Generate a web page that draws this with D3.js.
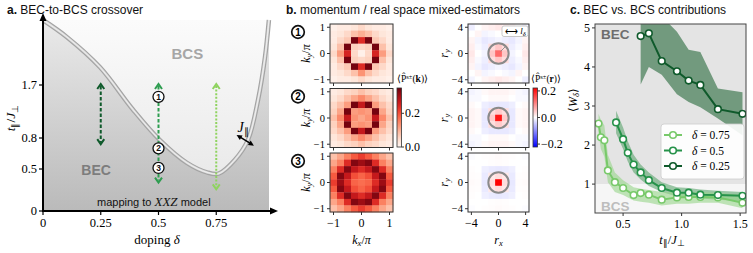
<!DOCTYPE html>
<html><head><meta charset="utf-8">
<script src="https://cdn.jsdelivr.net/npm/d3@7"></script>
<style>body{margin:0;background:#fff} svg{display:block}</style>
</head><body><svg id="c" width="753" height="253"></svg>
<script>
// ---------- DATA ----------
// panel a
const aXTicks=[0,0.25,0.5,0.75];
const aYTicks=[0,0.5,0.8,1.7];
const crossDelta=[0,0.104,0.247,0.39,0.506,0.623,0.71,0.76,0.831,0.887,0.931,0.961,0.978];
const crossT=[2.8,2.51,2.0,1.28,0.78,0.56,0.46,0.445,0.59,0.78,1.45,2.17,2.8];
const arrowDelta=[0.25,0.5,0.75];
const arrowLow=[0.75,0.35,0.27];
const arrowHigh=[1.7,1.7,1.7];
const stateLabels=["1","2","3"];
const stateT=[1.5,0.7,0.51];
// panel b
const kCoords=[-1,-0.75,-0.5,-0.25,0,0.25,0.5,0.75,1];
const rCoords=[-4,-3,-2,-1,0,1,2,3,4];
const kTicks=[-1,0,1];
const rTicks=[-4,0,4];
const kCbTicks=[0,0.2];
const rCbTicks=[-0.2,0,0.2];
const K1=[
[.01,.02,.02,.03,.05,.03,.02,.02,.01],
[.02,.03,.05,.08,.10,.08,.05,.03,.02],
[.02,.05,.07,.34,.24,.34,.07,.05,.02],
[.03,.08,.34,.06,.05,.06,.34,.08,.03],
[.05,.12,.25,.05,.01,.05,.25,.12,.05],
[.03,.08,.34,.06,.05,.06,.34,.08,.03],
[.02,.05,.07,.34,.24,.34,.07,.05,.02],
[.02,.03,.05,.08,.13,.08,.05,.03,.02],
[.01,.02,.02,.03,.05,.03,.02,.02,.01]];
const K2=[
[.02,.03,.05,.06,.08,.06,.05,.03,.02],
[.03,.05,.08,.11,.14,.11,.08,.05,.03],
[.05,.08,.12,.34,.27,.34,.12,.08,.05],
[.06,.11,.34,.12,.13,.12,.34,.11,.06],
[.08,.14,.27,.13,.11,.13,.27,.14,.08],
[.06,.11,.34,.12,.13,.12,.34,.11,.06],
[.05,.08,.12,.34,.27,.34,.12,.08,.05],
[.03,.05,.08,.11,.14,.11,.08,.05,.03],
[.02,.03,.05,.06,.08,.06,.05,.03,.02]];
const K3=[
[.08,.11,.15,.19,.22,.19,.15,.11,.08],
[.11,.15,.24,.33,.31,.33,.24,.15,.11],
[.15,.24,.33,.27,.24,.27,.33,.24,.15],
[.19,.33,.27,.20,.18,.20,.27,.33,.19],
[.22,.31,.24,.18,.17,.18,.24,.31,.22],
[.19,.33,.27,.20,.18,.20,.27,.33,.19],
[.15,.24,.33,.27,.24,.27,.33,.24,.15],
[.11,.15,.24,.33,.31,.33,.24,.15,.11],
[.08,.11,.15,.19,.22,.19,.15,.11,.08]];
const R1=[
[-.015,.0,.01,.015,.02,.015,.01,.0,-.01],
[.0,.01,-.01,-.005,.0,-.005,-.01,.01,.0],
[.01,-.01,-.02,-.015,-.01,-.015,-.02,-.01,.01],
[.015,-.005,-.015,.03,.05,.03,-.015,-.005,.015],
[.02,.0,-.01,.05,.13,.05,-.01,.0,.02],
[.015,-.005,-.015,.03,.05,.03,-.015,-.005,.015],
[.01,-.01,-.02,-.015,-.01,-.015,-.02,-.01,.01],
[.0,.01,-.01,-.005,.0,-.005,-.01,.01,.0],
[-.01,.0,.01,.015,.02,.015,.01,.0,-.015]];
const R2=[
[-.01,-.005,.005,.01,.01,.01,.005,-.005,-.01],
[-.005,-.005,.0,.005,.005,.005,.0,-.005,-.005],
[.005,.0,-.015,-.02,-.02,-.02,-.015,.0,.005],
[.01,.005,-.02,.03,.045,.03,-.02,.005,.01],
[.01,.005,-.02,.045,.2,.045,-.02,.005,.01],
[.01,.005,-.02,.03,.045,.03,-.02,.005,.01],
[.005,.0,-.015,-.02,-.02,-.02,-.015,.0,.005],
[-.005,-.005,.0,.005,.005,.005,.0,-.005,-.005],
[-.01,-.005,.005,.01,.01,.01,.005,-.005,-.01]];
const R3=[
[-.003,.0,.002,.003,.004,.003,.002,.0,-.003],
[.0,.0,.0,.002,.003,.002,.0,.0,.0],
[.002,.0,-.014,-.018,-.02,-.018,-.014,.0,.002],
[.003,.002,-.018,.02,.03,.02,-.018,.002,.003],
[.004,.003,-.02,.03,.22,.03,-.02,.003,.004],
[.003,.002,-.018,.02,.03,.02,-.018,.002,.003],
[.002,.0,-.014,-.018,-.02,-.018,-.014,.0,.002],
[.0,.0,.0,.002,.003,.002,.0,.0,.0],
[-.003,.0,.002,.003,.004,.003,.002,.0,-.003]];
// panel c
const cXTicks=[0.5,1.0,1.5];
const cYTicks=[1,2,3,4,5];
const seriesNames=["δ = 0.75","δ = 0.5","δ = 0.25"];
const t075=[0.29,0.31,0.34,0.37,0.43,0.5,0.59,0.65,0.72,0.83,0.96,1.06,1.16,1.31,1.52];
const w075=[2.55,2.2,2.12,1.35,1.05,0.9,0.72,0.77,0.73,0.6,0.66,0.67,0.67,0.66,0.52];
const w075hi=[2.8,2.65,2.5,1.75,1.3,1.1,0.92,0.88,0.85,0.8,0.8,0.8,0.8,0.78,0.72];
const w075lo=[2.3,1.9,1.7,1.05,0.8,0.72,0.58,0.55,0.52,0.45,0.5,0.5,0.52,0.52,0.38];
const t050=[0.44,0.5,0.54,0.59,0.65,0.72,0.83,0.96,1.06,1.16,1.31,1.52];
const w050=[2.58,2.15,1.8,1.5,1.3,1.1,0.9,0.78,0.78,0.73,0.72,0.7];
const w050hi=[2.88,2.45,2.1,1.75,1.5,1.3,1.05,0.92,0.9,0.86,0.83,0.8];
const w050lo=[2.3,1.9,1.58,1.3,1.12,0.95,0.8,0.68,0.66,0.63,0.6,0.56];
const t025=[0.65,0.72,0.83,0.96,1.06,1.16,1.31,1.52];
const w025=[4.79,4.86,4.15,3.89,3.65,3.54,2.92,2.8];
const w025hi=[5.6,5.5,5.3,4.9,4.44,4.38,3.45,3.35];
const w025lo=[3.55,4.0,3.8,3.3,3.1,2.97,2.68,2.25];

// ---------- DRAW ----------
const svg=d3.select("#c");
const SANS="'Liberation Sans', Arial, sans-serif";
const SERIF="'Liberation Serif','Times New Roman',serif";
const defs=svg.append("defs");
const greens={dark:"#0f5a2b",mid:"#26924a",light:"#78c96a"};

function title(x,y,b,rest){
  const t=svg.append("text").attr("x",x).attr("y",y).attr("font-family",SANS).attr("font-size",12).attr("fill","#111");
  t.append("tspan").attr("font-weight","bold").text(b);
  t.append("tspan").text(" "+rest);
}
title(7,14,"a.","BEC-to-BCS crossover");
title(286,14,"b.","momentum / real space mixed-estimators");
title(570,14,"c.","BEC vs. BCS contributions");

// ===== Panel a =====
const ax=d3.scaleLinear().domain([0,1]).range([43,274]);
const ay=d3.scaleLinear().domain([0,0.5,0.8,1.7,2.8]).range([211,169,138,85,20]);
const aL=43,aR=269,aT=20,aB=211;
const gD=defs.append("linearGradient").attr("id","gDark").attr("x1",0).attr("y1",0).attr("x2",0).attr("y2",1);
gD.append("stop").attr("offset","0%").attr("stop-color","#eaeaea");
gD.append("stop").attr("offset","100%").attr("stop-color","#bababa");
const gL=defs.append("linearGradient").attr("id","gLight").attr("gradientUnits","userSpaceOnUse").attr("x1",0).attr("y1",aT).attr("x2",0).attr("y2",180);
gL.append("stop").attr("offset","0%").attr("stop-color","#fbfbfb");
gL.append("stop").attr("offset","100%").attr("stop-color","#e9e9e9");
svg.append("rect").attr("x",aL).attr("y",aT).attr("width",aR-aL).attr("height",aB-aT).attr("fill","url(#gDark)");
const crossPts=crossDelta.map((d,i)=>[ax(d),ay(crossT[i])]);
const cline=d3.line().curve(d3.curveCatmullRom.alpha(0.5));
svg.append("path").attr("d",cline(crossPts)+"Z").attr("fill","url(#gLight)");
svg.append("path").attr("d",cline(crossPts)).attr("fill","none").attr("stroke","#a3a3a3").attr("stroke-width",4.5);
svg.append("path").attr("d",cline(crossPts)).attr("fill","none").attr("stroke","#dadada").attr("stroke-width",2.2);
svg.append("path").attr("d",cline(crossPts)).attr("fill","none").attr("stroke","#f4f4f4").attr("stroke-width",0.8);

svg.append("text").attr("x",ax(0.625)).attr("y",ay(2.23)+5).attr("text-anchor","middle").attr("font-family",SANS).attr("font-weight","bold").attr("font-size",15).attr("fill","#a6a6a6").text("BCS");
svg.append("text").attr("x",ax(0.23)).attr("y",ay(0.49)+5).attr("text-anchor","middle").attr("font-family",SANS).attr("font-weight","bold").attr("font-size",14).attr("fill","#7d7d7d").text("BEC");
const mp=svg.append("text").attr("x",97).attr("y",206).attr("font-family",SANS).attr("font-size",11).attr("fill","#111");
mp.append("tspan").text("mapping to ");
mp.append("tspan").attr("font-family",SERIF).attr("font-style","italic").attr("font-size",13).text("XXZ");
mp.append("tspan").text(" model");

// arrows
const arrowCols=[greens.dark,"#2e9d50","#8fd35f"];
const arrowDash=["3.5,2","3.5,2","2,1.6"];
arrowDelta.forEach((d,i)=>{
  const x=ax(d), y1=ay(arrowHigh[i])-1, y2=ay(arrowLow[i])+1;
  svg.append("line").attr("x1",x).attr("x2",x).attr("y1",y1+2).attr("y2",y2-2).attr("stroke",arrowCols[i]).attr("stroke-width",2).attr("stroke-dasharray",arrowDash[i]);
  svg.append("path").attr("d",`M${x-3.5},${y1+5}L${x},${y1}L${x+3.5},${y1+5}`).attr("fill","none").attr("stroke",arrowCols[i]).attr("stroke-width",2);
  svg.append("path").attr("d",`M${x-3.5},${y2-5}L${x},${y2}L${x+3.5},${y2-5}`).attr("fill","none").attr("stroke",arrowCols[i]).attr("stroke-width",2);
});
stateT.forEach((t,i)=>{
  const g=svg.append("g").attr("transform",`translate(${ax(0.5)},${ay(t)})`);
  g.append("circle").attr("r",5.5).attr("fill","#fff").attr("stroke","#111").attr("stroke-width",1.3);
  g.append("text").attr("y",3).attr("text-anchor","middle").attr("font-family",SANS).attr("font-weight","bold").attr("font-size",8.5).attr("fill","#111").text(stateLabels[i]);
});
// J|| annotation
{
  const x1=ax(0.838),y1=ay(0.851),x2=ax(0.913),y2=ay(0.726);
  svg.append("line").attr("x1",x1+2).attr("y1",y1+1.2).attr("x2",x2-2).attr("y2",y2-1.2).attr("stroke","#000").attr("stroke-width",1.5);
  const ang=Math.atan2(y2-y1,x2-x1);
  [[x1,y1,ang+Math.PI],[x2,y2,ang]].forEach(([x,y,a])=>{
    const p=(da)=>[x-6*Math.cos(a+da),y-6*Math.sin(a+da)];
    const q1=p(0.45),q2=p(-0.45);
    svg.append("path").attr("d",`M${q1}L${x},${y}L${q2}Z`).attr("fill","#000");
  });
  const j=svg.append("text").attr("x",x1+1).attr("y",y1-3).attr("font-family",SERIF).attr("font-style","italic").attr("font-size",14).text("J");
  j.append("tspan").attr("font-size",10).attr("dy",3).attr("font-style","normal").text("∥");
}
// axes
svg.append("line").attr("x1",aL).attr("x2",aL).attr("y1",aB+1).attr("y2",aT-1).attr("stroke","#000").attr("stroke-width",2);
svg.append("path").attr("d",`M${aL-3.5},${aT+1}L${aL},${aT-7}L${aL+3.5},${aT+1}Z`).attr("fill","#000");
svg.append("line").attr("x1",aL-1).attr("x2",272).attr("y1",aB).attr("y2",aB).attr("stroke","#000").attr("stroke-width",2);
svg.append("path").attr("d",`M270,${aB-3.5}L278,${aB}L270,${aB+3.5}Z`).attr("fill","#000");
aYTicks.forEach(t=>{
  svg.append("line").attr("x1",aL-4).attr("x2",aL).attr("y1",ay(t)).attr("y2",ay(t)).attr("stroke","#000").attr("stroke-width",1.2);
  svg.append("text").attr("x",aL-6).attr("y",ay(t)+4).attr("text-anchor","end").attr("font-family",SERIF).attr("font-size",12.5).text(t===0?"0":String(t));
});
aXTicks.forEach(t=>{
  svg.append("line").attr("x1",ax(t)).attr("x2",ax(t)).attr("y1",aB).attr("y2",aB+4).attr("stroke","#000").attr("stroke-width",1.2);
  svg.append("text").attr("x",ax(t)).attr("y",aB+16).attr("text-anchor","middle").attr("font-family",SERIF).attr("font-size",12.5).text(String(t));
});
const al=svg.append("text").attr("transform","translate(15,118) rotate(-90)").attr("text-anchor","middle").attr("font-family",SERIF).attr("font-size",13.5);
al.append("tspan").attr("font-style","italic").text("t");
al.append("tspan").attr("font-size",9).attr("dy",3).text("∥");
al.append("tspan").attr("dy",-3).text("/");
al.append("tspan").attr("font-style","italic").text("J");
al.append("tspan").attr("font-size",9).attr("dy",3).text("⊥");
const xl=svg.append("text").attr("x",157).attr("y",244).attr("text-anchor","middle").attr("font-family",SERIF).attr("font-size",13);
xl.append("tspan").text("doping ");
xl.append("tspan").attr("font-style","italic").text("δ");

// ===== Panel b =====
const tops=[24,88.5,153], hH=59;
const kx=d3.scaleLinear().domain([-1.125,1.125]).range([330,393]);
const rx=d3.scaleLinear().domain([-4.5,4.5]).range([468,529]);
const kColor=v=>d3.interpolateReds(Math.max(0,Math.min(1,v/0.35)));
const bwr=v=>{const t=Math.max(-1,Math.min(1,v/0.222));return t>=0?d3.interpolateRgb("#ffffff","#ff0000")(t):d3.interpolateRgb("#ffffff","#0000ff")(-t);};
function heat(data,xs,ys,coords,step,color){
  data.forEach((row,i)=>row.forEach((v,j)=>{
    const cx=coords[j], cy=coords[data.length-1-i];
    svg.append("rect").attr("x",xs(cx-step/2)).attr("y",ys(cy+step/2)).attr("width",xs(cx+step/2)-xs(cx-step/2)+0.3).attr("height",ys(cy-step/2)-ys(cy+step/2)+0.3).attr("fill",color(v));
  }));
}
function frameAxes(xs,ys,ticks,showXLabels,fmt){
  const x0=xs.range()[0],x1=xs.range()[1],y0=ys.range()[1],y1=ys.range()[0];
  svg.append("rect").attr("x",x0).attr("y",y0).attr("width",x1-x0).attr("height",y1-y0).attr("fill","none").attr("stroke","#333").attr("stroke-width",1);
  ticks.forEach(t=>{
    svg.append("line").attr("x1",x0-3).attr("x2",x0).attr("y1",ys(t)).attr("y2",ys(t)).attr("stroke","#333");
    svg.append("line").attr("x1",xs(t)).attr("x2",xs(t)).attr("y1",y1).attr("y2",y1+3).attr("stroke","#333");
    svg.append("text").attr("x",x0-5).attr("y",ys(t)+3.5).attr("text-anchor","end").attr("font-family",SERIF).attr("font-size",10.5).text(fmt(t));
    if(showXLabels) svg.append("text").attr("x",xs(t)).attr("y",y1+15).attr("text-anchor","middle").attr("font-family",SERIF).attr("font-size",12).text(fmt(t));
  });
}
const fmtI=t=>t<0?"−"+Math.abs(t):String(t);
const Ks=[K1,K2,K3], Rs=[R1,R2,R3];
tops.forEach((top,i)=>{
  const ky=d3.scaleLinear().domain([-1.125,1.125]).range([top+hH,top]);
  heat(Ks[i],kx,ky,kCoords,0.25,kColor);
  frameAxes(kx,ky,kTicks,i===2,fmtI);
  const yl=svg.append("text").attr("transform",`translate(${310},${top+hH/2}) rotate(-90)`).attr("text-anchor","middle").attr("font-family",SERIF).attr("font-size",12);
  yl.append("tspan").attr("font-style","italic").text("k");
  yl.append("tspan").attr("font-style","italic").attr("font-size",8.5).attr("dy",2).text("y");
  yl.append("tspan").attr("dy",-2).text("/");
  yl.append("tspan").attr("font-style","italic").text("π");
  const g=svg.append("g").attr("transform",`translate(298,${top+8})`);
  g.append("circle").attr("r",6.3).attr("fill","#fff").attr("stroke","#111").attr("stroke-width",1.7);
  g.append("text").attr("y",3.6).attr("text-anchor","middle").attr("font-family",SANS).attr("font-weight","bold").attr("font-size",10).text(stateLabels[i]);

  const ry=d3.scaleLinear().domain([-4.5,4.5]).range([top+hH,top]);
  heat(Rs[i],rx,ry,rCoords,1,bwr);
  svg.append("circle").attr("cx",rx(0)).attr("cy",ry(0)).attr("r",rx(1.5)-rx(0)).attr("fill","none").attr("stroke","#8a8a8a").attr("stroke-width",2);
  frameAxes(rx,ry,rTicks,i===2,fmtI);
  const rl=svg.append("text").attr("transform",`translate(${448},${top+hH/2}) rotate(-90)`).attr("text-anchor","middle").attr("font-family",SERIF).attr("font-size",12);
  rl.append("tspan").attr("font-style","italic").text("r");
  rl.append("tspan").attr("font-style","italic").attr("font-size",8.5).attr("dy",2).text("y");
  if(i===0){
    const a=Math.PI/4, rr=rx(1.5)-rx(0);
    svg.append("line").attr("x1",rx(0)+2).attr("y1",ry(0)-2).attr("x2",rx(0)+rr*Math.cos(a)).attr("y2",ry(0)-rr*Math.sin(a)).attr("stroke","#8a8a8a").attr("stroke-width",0.9);
    svg.append("rect").attr("x",502).attr("y",26).attr("width",26).attr("height",10.5).attr("rx",2).attr("fill","#fff").attr("stroke","#bbb").attr("stroke-width",0.8);
    const lt=svg.append("text").attr("x",505).attr("y",34).attr("font-family",SERIF).attr("font-size",9);
    lt.append("tspan").text("⟷ ");
    lt.append("tspan").attr("font-style","italic").text("l");
    lt.append("tspan").attr("font-style","italic").attr("font-size",6.5).attr("dy",1.5).text("δ");
  }
});
{
  const x=kx(0);
  const t=svg.append("text").attr("x",x).attr("y",244).attr("text-anchor","middle").attr("font-family",SERIF).attr("font-size",12);
  t.append("tspan").attr("font-style","italic").text("k");
  t.append("tspan").attr("font-style","italic").attr("font-size",8.5).attr("dy",2).text("x");
  t.append("tspan").attr("dy",-2).text("/");
  t.append("tspan").attr("font-style","italic").text("π");
  const t2=svg.append("text").attr("x",rx(0)).attr("y",244).attr("text-anchor","middle").attr("font-family",SERIF).attr("font-size",12);
  t2.append("tspan").attr("font-style","italic").text("r");
  t2.append("tspan").attr("font-style","italic").attr("font-size",8.5).attr("dy",2).text("x");
}
// colorbars
function colorbar(id,x,y0,y1,domain,interp,ticks,fmt,label,labX){
  const g=defs.append("linearGradient").attr("id",id).attr("x1",0).attr("y1",1).attr("x2",0).attr("y2",0);
  d3.range(0,1.0001,0.05).forEach(f=>g.append("stop").attr("offset",f).attr("stop-color",interp(domain[0]+f*(domain[1]-domain[0]))));
  svg.append("rect").attr("x",x).attr("y",y0).attr("width",4.5).attr("height",y1-y0).attr("fill",`url(#${id})`).attr("stroke","#333").attr("stroke-width",0.8);
  const s=d3.scaleLinear().domain(domain).range([y1,y0]);
  ticks.forEach(t=>{
    svg.append("line").attr("x1",x+4.5).attr("x2",x+7).attr("y1",s(t)).attr("y2",s(t)).attr("stroke","#333");
    svg.append("text").attr("x",x+8).attr("y",s(t)+4).attr("font-family",SERIF).attr("font-size",12).text(fmt(t));
  });
  const lt=svg.append("text").attr("x",labX).attr("y",y0-6).attr("font-family",SERIF).attr("font-size",9.5);
  lt.append("tspan").text("⟨P̂");
  lt.append("tspan").attr("font-size",6.5).attr("dy",-3).text("s±");
  lt.append("tspan").attr("dy",3).text("(");
  lt.append("tspan").attr("font-weight","bold").text(label);
  lt.append("tspan").text(")⟩");
}
colorbar("cbk",397,88,147,[0,0.35],kColor,kCbTicks,t=>t.toFixed(1),"k",397);
colorbar("cbr",533,88,147,[-0.222,0.222],bwr,rCbTicks,t=>(t<0?"−":"")+Math.abs(t).toFixed(1),"r",531);

// ===== Panel c =====
const cx=d3.scaleLinear().domain([0.26,1.55]).range([595,746]);
const cy=d3.scaleLinear().domain([0.26,5.1]).range([213,24]);
defs.append("clipPath").attr("id","clipC").append("rect").attr("x",595).attr("y",24).attr("width",151).attr("height",189);
svg.append("rect").attr("x",595).attr("y",cy(5.1)).attr("width",151).attr("height",cy(1)-cy(5.1)).attr("fill","#e4e4e4");
svg.append("rect").attr("x",595).attr("y",cy(1)).attr("width",151).attr("height",cy(0.26)-cy(1)).attr("fill","#f6f6f6");
svg.append("text").attr("x",601).attr("y",39).attr("font-family",SANS).attr("font-weight","bold").attr("font-size",13.5).attr("fill","#6e6e6e").text("BEC");
svg.append("text").attr("x",601).attr("y",211).attr("font-family",SANS).attr("font-weight","bold").attr("font-size",13.5).attr("fill","#bdbdbd").text("BCS");
const gc=svg.append("g").attr("clip-path","url(#clipC)");
const series=[
 {t:t025,w:w025,hi:w025hi,lo:w025lo,col:greens.dark,band:"#5e8d6c",op:0.85},
 {t:t050,w:w050,hi:w050hi,lo:w050lo,col:greens.mid,band:"#4e9e62",op:0.55},
 {t:t075,w:w075,hi:w075hi,lo:w075lo,col:greens.light,band:"#98d68a",op:0.6}];
series.forEach(s=>{
  const ar=d3.area().x((d,i)=>cx(s.t[i])).y0((d,i)=>cy(s.lo[i])).y1((d,i)=>cy(s.hi[i]));
  gc.append("path").attr("d",ar(s.t)).attr("fill",s.band).attr("fill-opacity",s.op);
});
[series[2],series[1],series[0]].forEach(s=>{
  const ln=d3.line().x((d,i)=>cx(s.t[i])).y((d,i)=>cy(s.w[i]));
  gc.append("path").attr("d",ln(s.t)).attr("fill","none").attr("stroke",s.col).attr("stroke-width",2);
  s.t.forEach((t,i)=>gc.append("circle").attr("cx",cx(t)).attr("cy",cy(s.w[i])).attr("r",3.3).attr("fill","#fff").attr("stroke",s.col).attr("stroke-width",1.6));
});
svg.append("rect").attr("x",595).attr("y",24).attr("width",151).attr("height",189).attr("fill","none").attr("stroke","#444").attr("stroke-width",1);
cYTicks.forEach(t=>{
  svg.append("line").attr("x1",592).attr("x2",595).attr("y1",cy(t)).attr("y2",cy(t)).attr("stroke","#333");
  svg.append("text").attr("x",590).attr("y",cy(t)+4).attr("text-anchor","end").attr("font-family",SERIF).attr("font-size",12).text(String(t));
});
cXTicks.forEach(t=>{
  svg.append("line").attr("x1",cx(t)).attr("x2",cx(t)).attr("y1",213).attr("y2",216).attr("stroke","#333");
  svg.append("text").attr("x",cx(t)).attr("y",228).attr("text-anchor","middle").attr("font-family",SERIF).attr("font-size",12).text(t.toFixed(1));
});
const wl=svg.append("text").attr("transform","translate(577,100) rotate(-90)").attr("text-anchor","middle").attr("font-family",SERIF).attr("font-size",12);
wl.append("tspan").text("⟨");
wl.append("tspan").attr("font-style","italic").text("W");
wl.append("tspan").attr("font-style","italic").attr("font-size",8.5).attr("dy",2).text("δ");
wl.append("tspan").attr("dy",-2).text("⟩");
const xl2=svg.append("text").attr("x",672).attr("y",244).attr("text-anchor","middle").attr("font-family",SERIF).attr("font-size",12.5);
xl2.append("tspan").attr("font-style","italic").text("t");
xl2.append("tspan").attr("font-size",8.5).attr("dy",2).text("∥");
xl2.append("tspan").attr("dy",-2).text("/");
xl2.append("tspan").attr("font-style","italic").text("J");
xl2.append("tspan").attr("font-size",8.5).attr("dy",2).text("⊥");
// legend
svg.append("rect").attr("x",661).attr("y",124).attr("width",83).attr("height",55).attr("rx",3).attr("fill","#fff").attr("fill-opacity",0.9).attr("stroke","#ccc").attr("stroke-width",0.8);
[series[2],series[1],series[0]].forEach((s,i)=>{
  const y=135+i*15.5;
  svg.append("line").attr("x1",664).attr("x2",682).attr("y1",y).attr("y2",y).attr("stroke",s.col).attr("stroke-width",2);
  svg.append("circle").attr("cx",673).attr("cy",y).attr("r",3.3).attr("fill","#fff").attr("stroke",s.col).attr("stroke-width",1.6);
  const nm=seriesNames[i];
  const tx=svg.append("text").attr("x",692).attr("y",y+4).attr("font-family",SERIF).attr("font-size",11.5);
  tx.append("tspan").attr("font-style","italic").text(nm.slice(0,1));
  tx.append("tspan").text(nm.slice(1));
});
</script></body></html>
